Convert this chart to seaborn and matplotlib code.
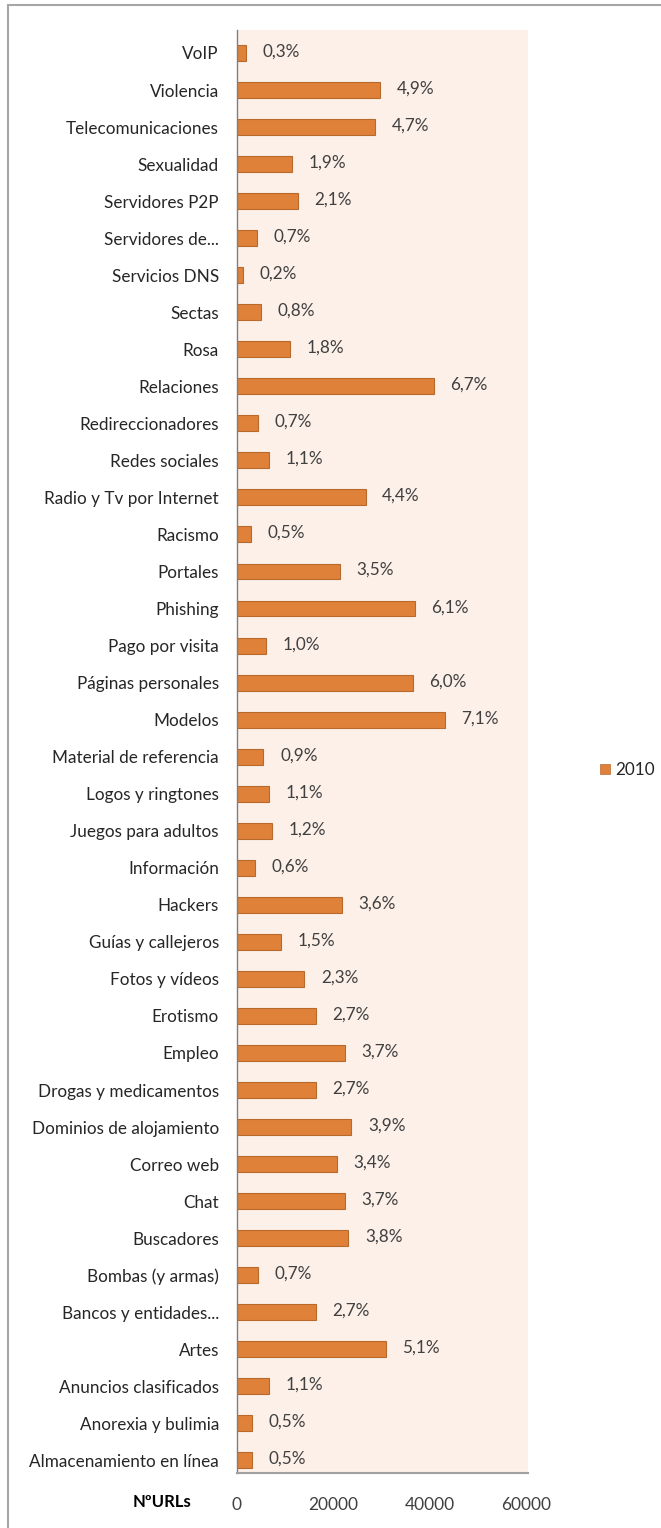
import matplotlib
matplotlib.use("Agg")
import matplotlib.pyplot as plt
import seaborn as sns
import pandas as pd
from matplotlib.lines import Line2D
from matplotlib.patches import Patch

categories = [
    "VoIP", "Violencia", "Telecomunicaciones", "Sexualidad", "Servidores P2P",
    "Servidores de...", "Servicios DNS", "Sectas", "Rosa", "Relaciones",
    "Redireccionadores", "Redes sociales", "Radio y Tv por Internet", "Racismo",
    "Portales", "Phishing", "Pago por visita", "Páginas personales", "Modelos",
    "Material de referencia", "Logos y ringtones", "Juegos para adultos",
    "Información", "Hackers", "Guías y callejeros", "Fotos y vídeos", "Erotismo",
    "Empleo", "Drogas y medicamentos", "Dominios de alojamiento", "Correo web",
    "Chat", "Buscadores", "Bombas (y armas)", "Bancos y entidades...", "Artes",
    "Anuncios clasificados", "Anorexia y bulimia", "Almacenamiento en línea",
]
urls_2010 = [
    1900, 29700, 28600, 11400, 12600,
    4200, 1300, 4900, 11000, 40800,
    4300, 6700, 26700, 2900,
    21400, 36900, 6100, 36500, 43100,
    5500, 6700, 7300,
    3700, 21800, 9100, 14000, 16400,
    22400, 16400, 23700, 20700,
    22400, 23100, 4300, 16400, 30900,
    6600, 3100, 3100,
]
pct_labels = [
    "0,3%", "4,9%", "4,7%", "1,9%", "2,1%",
    "0,7%", "0,2%", "0,8%", "1,8%", "6,7%",
    "0,7%", "1,1%", "4,4%", "0,5%",
    "3,5%", "6,1%", "1,0%", "6,0%", "7,1%",
    "0,9%", "1,1%", "1,2%",
    "0,6%", "3,6%", "1,5%", "2,3%", "2,7%",
    "3,7%", "2,7%", "3,9%", "3,4%",
    "3,7%", "3,8%", "0,7%", "2,7%", "5,1%",
    "1,1%", "0,5%", "0,5%",
]
series_name = "2010"
x_ticks = [0, 20000, 40000, 60000]
x_title = "NºURLs"

df = pd.DataFrame({"cat": categories, "val": urls_2010, "pct": pct_labels})

sns.set_theme(style="white")
plt.rcParams["font.family"] = ["Lato", "DejaVu Sans"]

W, H = 661, 1528
fig = plt.figure(figsize=(W / 100, H / 100), dpi=100)
fig.patch.set_facecolor("white")

left, right, top, bottom = 237, 528, 30, 1473
ax = fig.add_axes([left / W, 1 - bottom / H, (right - left) / W, (bottom - top) / H])

bar_color = "#E0813A"
edge_color = "#B8692C"
sns.barplot(data=df, x="val", y="cat", order=categories, color=bar_color,
            edgecolor=edge_color, linewidth=0.8, width=0.43, ax=ax,
            saturation=1)

ax.set_facecolor("#FDF0E9")
n = len(categories)
ax.set_ylim(n - 1 + 0.34, -0.62)
ax.set_xlim(0, 60400)
ax.set_xticks(x_ticks)
ax.set_xticklabels([str(t) for t in x_ticks])
ax.set_xlabel("")
ax.set_ylabel("")

for s in ["top", "right"]:
    ax.spines[s].set_visible(False)
ax.spines["left"].set_color("#7F7F7F")
ax.spines["left"].set_linewidth(1.0)
ax.spines["bottom"].set_color("#A0A0A0")
ax.spines["bottom"].set_linewidth(1.5)

ax.tick_params(axis="y", length=0, pad=13, labelsize=12.3, labelcolor="#262626")
ax.tick_params(axis="x", length=0, pad=17, labelsize=12.5, labelcolor="#404040")

for i, (v, p) in enumerate(zip(urls_2010, pct_labels)):
    ax.annotate(p, xy=(v, i), xytext=(12, 1), textcoords="offset points",
                ha="left", va="center", fontsize=12.3, color="#404040")

# axis title at left of tick labels
fig.text(162 / W, 1 - 1502 / H, x_title, ha="center", va="center",
         fontsize=12, fontweight="bold", color="#000000")

# legend
handles = [Patch(facecolor=bar_color, edgecolor=edge_color, linewidth=0.5, label=series_name)]
fig.legend(handles=handles, loc="center left", bbox_to_anchor=(600 / W, 1 - 770 / H),
           frameon=False, fontsize=12.3, handlelength=0.6, handleheight=0.6,
           handletextpad=0.3, borderaxespad=0, borderpad=0)

# outer chart frame (left and top edges visible)
fig.add_artist(Line2D([8 / W, 8 / W], [0, 1 - 5 / H], transform=fig.transFigure,
                      color="#A6A6A6", linewidth=1.5))
fig.add_artist(Line2D([8 / W, 1], [1 - 5 / H, 1 - 5 / H], transform=fig.transFigure,
                      color="#A6A6A6", linewidth=1.5))

fig.savefig("out.png", dpi=100)
